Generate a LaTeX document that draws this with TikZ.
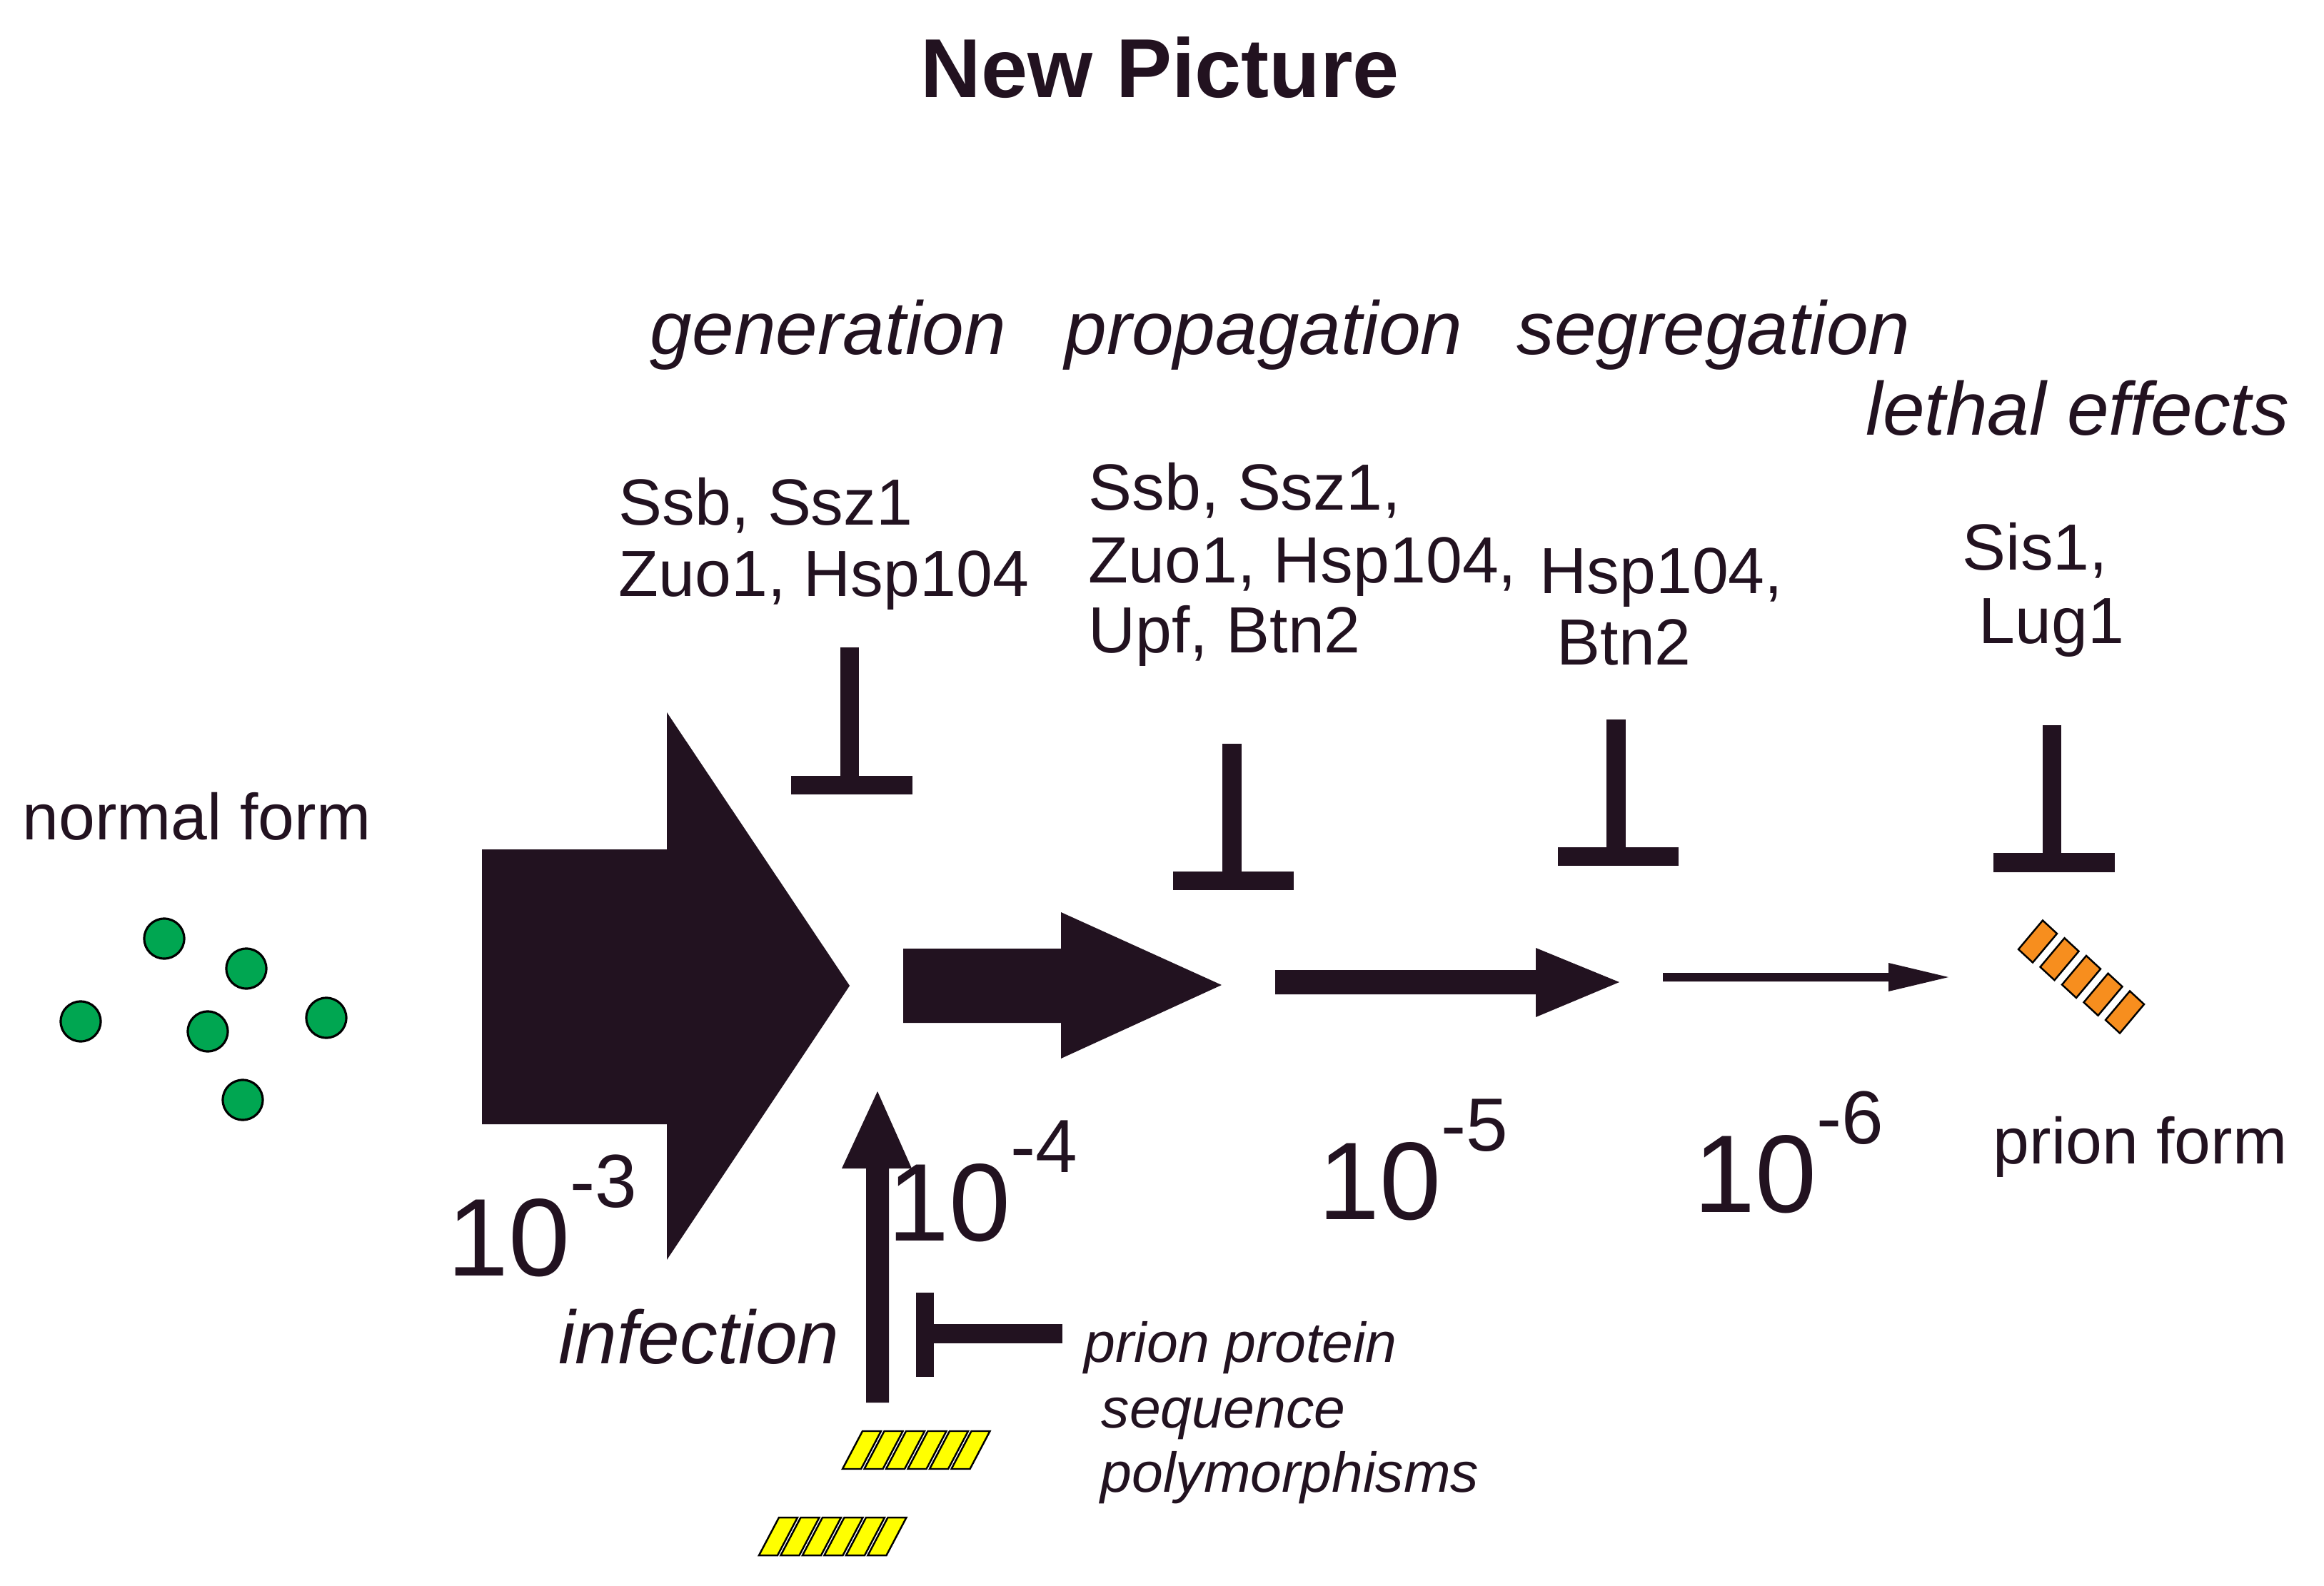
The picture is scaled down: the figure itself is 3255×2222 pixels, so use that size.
\documentclass[tikz,border=0pt]{standalone}
\usepackage{fontspec}
\setmainfont{Liberation Sans}
\usetikzlibrary{calc}
\definecolor{ink}{RGB}{34,18,32}
\definecolor{dotgreen}{RGB}{0,166,81}
\definecolor{baryellow}{RGB}{255,255,0}
\definecolor{barorange}{RGB}{247,142,30}
\newcommand{\tenpow}[1]{{\fontsize{44}{44}\selectfont 10}{\fontsize{30}{30}\selectfont\raisebox{0.95cm}{-#1}}}
\tikzset{
  lbl/.style={anchor=base west, inner sep=0pt, text=ink, font=\fontsize{26}{26}\selectfont},
  headlbl/.style={anchor=base, inner sep=0pt, text=ink, font=\itshape\fontsize{30}{30}\selectfont},
  smalllbl/.style={anchor=base west, inner sep=0pt, text=ink, font=\itshape\fontsize{22.4}{22.4}\selectfont},
  expolbl/.style={anchor=base west, inner sep=0pt, text=ink},
  solidshape/.style={fill=ink, draw=none},
  dot/.style={circle, draw=black, line width=0.9pt, fill=dotgreen, minimum size=0.56cm, inner sep=0pt},
  ybar/.style={draw=black, line width=0.7pt, fill=baryellow, line join=miter},
  obar/.style={draw=black, line width=0.7pt, fill=barorange, line join=miter},
}
\begin{document}
\begin{tikzpicture}[x=0.01cm, y=-0.01cm]
\useasboundingbox[fill=white] (0,0) rectangle (3255,2222);

% title
\node[anchor=base, inner sep=0pt, text=ink, font=\bfseries\fontsize{33.3}{33.3}\selectfont] (title) at (1625,137) {New Picture};

% stage headings
\node[headlbl] (gen) at (1160,497) {generation};
\node[headlbl] (prop) at (1770,497) {propagation};
\node[headlbl] (segr) at (2400,497) {segregation};
\node[headlbl] (leth) at (2910,610) {lethal effects};

% factor labels
\node[lbl] (g1) at (866,736) {Ssb, Ssz1};
\node[lbl] (g2) at (866,836) {Zuo1, Hsp104};
\node[lbl] (p1) at (1524,715) {Ssb, Ssz1,};
\node[lbl] (p2) at (1524,817) {Zuo1, Hsp104,};
\node[lbl] (p3) at (1524,914) {Upf, Btn2};
\node[lbl] (s1) at (2156,832) {Hsp104,};
\node[lbl] (s2) at (2180,931) {Btn2};
\node[lbl] (l1) at (2748,799) {Sis1,};
\node[lbl] (l2) at (2771,902) {Lug1};

\node[lbl] (normal) at (31,1176) {normal form};
\node[lbl] (prion) at (2791,1630) {prion form};

% inhibition bars
\fill[solidshape] (1177,907) rectangle (1203,1087);
\fill[solidshape] (1108,1087) rectangle (1278,1113);
\fill[solidshape] (1712,1042) rectangle (1739,1221);
\fill[solidshape] (1643,1221) rectangle (1812,1247);
\fill[solidshape] (2250,1008) rectangle (2277,1187);
\fill[solidshape] (2182,1187) rectangle (2351,1213);
\fill[solidshape] (2861,1016) rectangle (2887,1195);
\fill[solidshape] (2792,1195) rectangle (2962,1222);
\fill[solidshape] (1283,1811) rectangle (1308,1929);
\fill[solidshape] (1308,1855) rectangle (1488,1882);

% block arrows
\fill[solidshape] (675,1190) -- (934,1190) -- (934,998) -- (1190,1381) -- (934,1765) -- (934,1575) -- (675,1575) -- cycle;
\fill[solidshape] (1265,1329) -- (1486,1329) -- (1486,1278) -- (1711,1380) -- (1486,1483) -- (1486,1433) -- (1265,1433) -- cycle;
\fill[solidshape] (1786,1359) -- (2151,1359) -- (2151,1328) -- (2268,1376) -- (2151,1425) -- (2151,1393) -- (1786,1393) -- cycle;
\fill[solidshape] (2329,1363) -- (2645,1363) -- (2645,1349) -- (2729,1369) -- (2645,1389) -- (2645,1375) -- (2329,1375) -- cycle;
% infection arrow
\fill[solidshape] (1213,1965) -- (1213,1637) -- (1179,1637) -- (1229,1529) -- (1277,1637) -- (1245,1637) -- (1245,1965) -- cycle;

% rates
\node[expolbl] (r3) at (626,1787) {\tenpow{3}};
\node[expolbl] (r4) at (1243,1738) {\tenpow{4}};
\node[expolbl] (r5) at (1846,1708) {\tenpow{5}};
\node[expolbl] (r6) at (2372,1698) {\tenpow{6}};

% infection & polymorphisms
\node[headlbl] (inf) at (979,1910) {infection};
\node[smalllbl] (pp1) at (1518,1908) {prion protein};
\node[smalllbl] (pp2) at (1542,2000) {sequence};
\node[smalllbl] (pp3) at (1541,2090) {polymorphisms};

% normal form molecules
\node[dot] (d1) at (230,1315) {};
\node[dot] (d2) at (345,1357) {};
\node[dot] (d3) at (113,1431) {};
\node[dot] (d4) at (291,1445) {};
\node[dot] (d5) at (457,1426) {};
\node[dot] (d6) at (340,1541) {};

% yellow infectious aggregates
\foreach \i in {0,...,5} {
  \draw[ybar] ({1180+30.5*\i},2058) -- ++(26,0) -- ++(28,-53) -- ++(-26,0) -- cycle;
  \draw[ybar] ({1063+30.5*\i},2179) -- ++(26,0) -- ++(28,-53) -- ++(-26,0) -- cycle;
}

% orange prion aggregate
\foreach \i in {0,...,4} {
  \pgfmathsetmacro\cx{2854+30.5*\i}
  \pgfmathsetmacro\cy{1319+24.75*\i}
  \draw[obar] (\cx+27,\cy-11) -- (\cx+7,\cy-29.5) -- (\cx-27,\cy+11) -- (\cx-7,\cy+29.5) -- cycle;
}
\end{tikzpicture}
\end{document}
